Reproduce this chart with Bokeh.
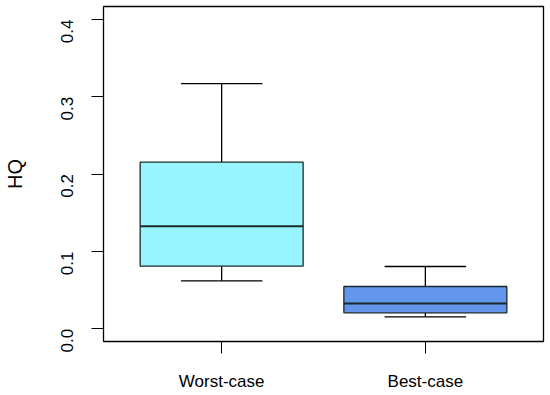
import math
from bokeh.plotting import figure
from bokeh.models import ColumnDataSource, FixedTicker, Range1d
from bokeh.embed import file_html
from bokeh.resources import INLINE

categories = ["Worst-case", "Best-case"]
lower_whisker = [0.062, 0.0155]
q1 = [0.081, 0.0207]
median = [0.1327, 0.0327]
q3 = [0.2155, 0.0547]
upper_whisker = [0.317, 0.0806]
fill_colors = ["#98F5FF", "#6495ED"]
y_ticks = [0.0, 0.1, 0.2, 0.3, 0.4]

pos = [i + 1 for i in range(len(categories))]
src = ColumnDataSource(dict(
    x=pos, q1=q1, q3=q3, med=median, lo=lower_whisker, hi=upper_whisker,
    color=fill_colors,
    bl=[p - 0.4 for p in pos], br=[p + 0.4 for p in pos],
    cl=[p - 0.2 for p in pos], cr=[p + 0.2 for p in pos],
))

p = figure(frame_width=440, frame_height=335, output_backend="svg", toolbar_location=None,
           x_range=Range1d(0.42, 2.58), y_range=Range1d(-0.0164, 0.4168),
           min_border_left=103, min_border_right=2, min_border_top=6, min_border_bottom=48)
p.grid.visible = False
p.outline_line_color = "black"
p.outline_line_width = 1.3
p.background_fill_color = "white"
p.border_fill_color = "white"

# whiskers
p.segment(x0="x", y0="q3", x1="x", y1="hi", source=src, line_color="black", line_width=1.3)
p.segment(x0="x", y0="lo", x1="x", y1="q1", source=src, line_color="black", line_width=1.3)
p.segment(x0="cl", y0="hi", x1="cr", y1="hi", source=src, line_color="black", line_width=1.3)
p.segment(x0="cl", y0="lo", x1="cr", y1="lo", source=src, line_color="black", line_width=1.3)
# boxes
p.quad(left="bl", right="br", bottom="q1", top="q3", source=src,
       fill_color="color", line_color="#1a2a2a", line_width=1.3)
# medians
p.segment(x0="bl", y0="med", x1="br", y1="med", source=src, line_color="#1a2a2a", line_width=2)

font = "Liberation Sans"

ya = p.yaxis[0]
ya.ticker = FixedTicker(ticks=y_ticks)
ya.major_label_overrides = {t: f"{t:.1f}" for t in y_ticks}
ya.major_label_orientation = math.pi / 2
ya.axis_line_color = None
ya.major_tick_out = 12
ya.major_tick_in = 0
ya.minor_tick_line_color = None
ya.major_tick_line_color = "black"
ya.major_label_text_font = font
ya.major_label_text_font_size = "17px"
ya.major_label_text_color = "black"
ya.major_label_standoff = 24
ya.axis_label = "HQ"
ya.axis_label_text_font = font
ya.axis_label_text_font_size = "20px"
ya.axis_label_text_font_style = "normal"
ya.axis_label_text_color = "black"
ya.axis_label_standoff = 27

xa = p.xaxis[0]
xa.ticker = FixedTicker(ticks=pos)
xa.major_label_overrides = {p_: c for p_, c in zip(pos, categories)}
xa.axis_line_color = None
xa.major_tick_out = 12
xa.major_tick_in = 0
xa.minor_tick_line_color = None
xa.major_tick_line_color = "black"
xa.major_label_text_font = font
xa.major_label_text_font_size = "17px"
xa.major_label_text_color = "black"
xa.major_label_standoff = 18

open("out.html", "w").write(file_html(p, INLINE))
